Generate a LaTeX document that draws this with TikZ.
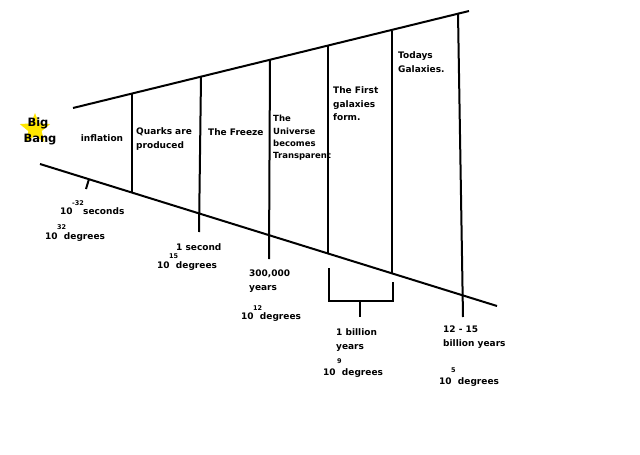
\documentclass[tikz,border=0pt]{standalone}
\usepackage{fontspec}
\setmainfont{DejaVu Sans}
\usetikzlibrary{shapes.geometric}
\begin{document}
\begin{tikzpicture}[x=1pt,y=-1pt,
  ln/.style={line width=2pt,black},
  lbl/.style={anchor=west,inner sep=0pt,font=\fontsize{9}{13.5}\selectfont\bfseries,align=left},
  sup/.style={anchor=west,inner sep=0pt,font=\fontsize{6.5}{8}\selectfont\bfseries}]
\useasboundingbox (0,0) rectangle (640,455);
\fill[white] (0,0) rectangle (640,455);
% star
\node[star,star points=5,star point ratio=2.3,fill={rgb,255:red,255;green,230;blue,0},minimum size=32pt,inner sep=0pt] (star) at (35,129) {};
\node[inner sep=0pt,font=\fontsize{11.5}{14}\selectfont\bfseries] (big) at (38,123) {Big};
\node[inner sep=0pt,font=\fontsize{11.5}{14}\selectfont\bfseries] (bang) at (40,140) {Bang};
% main lines
\coordinate (T0) at (73,108); \coordinate (T1) at (469,11);
\coordinate (B0) at (40,164); \coordinate (B1) at (497,306);
\draw[ln] (T0) -- (T1);
\draw[ln] (B0) -- (B1);
% verticals
\coordinate (v1t) at (132,94);  \coordinate (v1b) at (132,192);
\coordinate (v2t) at (201,77);  \coordinate (v2b) at (199,232);
\coordinate (v3t) at (270,60);  \coordinate (v3b) at (269,259);
\coordinate (v4t) at (328,46);  \coordinate (v4b) at (328,254);
\coordinate (v5t) at (392,31);  \coordinate (v5b) at (392,274);
\coordinate (v6t) at (458,13);  \coordinate (v6b) at (463,317);
\draw[ln] (v1t) -- (v1b);
\draw[ln] (v2t) -- (v2b);
\draw[ln] (v3t) -- (v3b);
\draw[ln] (v4t) -- (v4b);
\draw[ln] (v5t) -- (v5b);
\draw[ln] (v6t) -- (v6b);
% tick
\coordinate (k0) at (89,179); \coordinate (k1) at (86,189);
\draw[ln] (k0) -- (k1);
% bracket
\coordinate (br0) at (329,268); \coordinate (br1) at (329,301);
\coordinate (br2) at (393,301); \coordinate (br3) at (393,282);
\coordinate (bm0) at (360,301); \coordinate (bm1) at (360,317);
\draw[ln] (br0) -- (br1) -- (br2) -- (br3);
\draw[ln] (bm0) -- (bm1);
% era labels
\node[lbl,anchor=center] (infl) at (102,138) {inflation};
\node[lbl] (quarks) at (136,139) {Quarks are\\produced};
\node[lbl] (freeze) at (208,132) {The Freeze};
\node[lbl,font=\fontsize{8.5}{12.3}\selectfont\bfseries] (transp) at (273,138) {The\\Universe\\becomes\\Transparent};
\node[lbl] (first) at (333,104) {The First\\galaxies\\form.};
\node[lbl] (today) at (398,62) {Todays\\Galaxies.};
% time / temperature labels
\node[lbl] (a1) at (60,211) {10};
\node[sup] (a2) at (72,203) {-32};
\node[lbl] (a3) at (83,211) {seconds};
\node[sup] (a4) at (57,227) {32};
\node[lbl] (a5) at (45,237) {10\ \ degrees};
\node[lbl] (b1) at (176,247) {1 second};
\node[sup] (b2) at (169,256) {15};
\node[lbl] (b3) at (157,266) {10\ \ degrees};
\node[lbl] (c1) at (249,281) {300,000\\years};
\node[sup] (c2) at (253,308) {12};
\node[lbl] (c3) at (241,317) {10\ \ degrees};
\node[lbl] (d1) at (336,340) {1 billion\\years};
\node[sup] (d2) at (337,361) {9};
\node[lbl] (d3) at (323,373) {10\ \ degrees};
\node[lbl] (e1) at (443,337) {12 - 15\\billion years};
\node[sup] (e2) at (451,370) {5};
\node[lbl] (e3) at (439,382) {10\ \ degrees};
\end{tikzpicture}
\end{document}
